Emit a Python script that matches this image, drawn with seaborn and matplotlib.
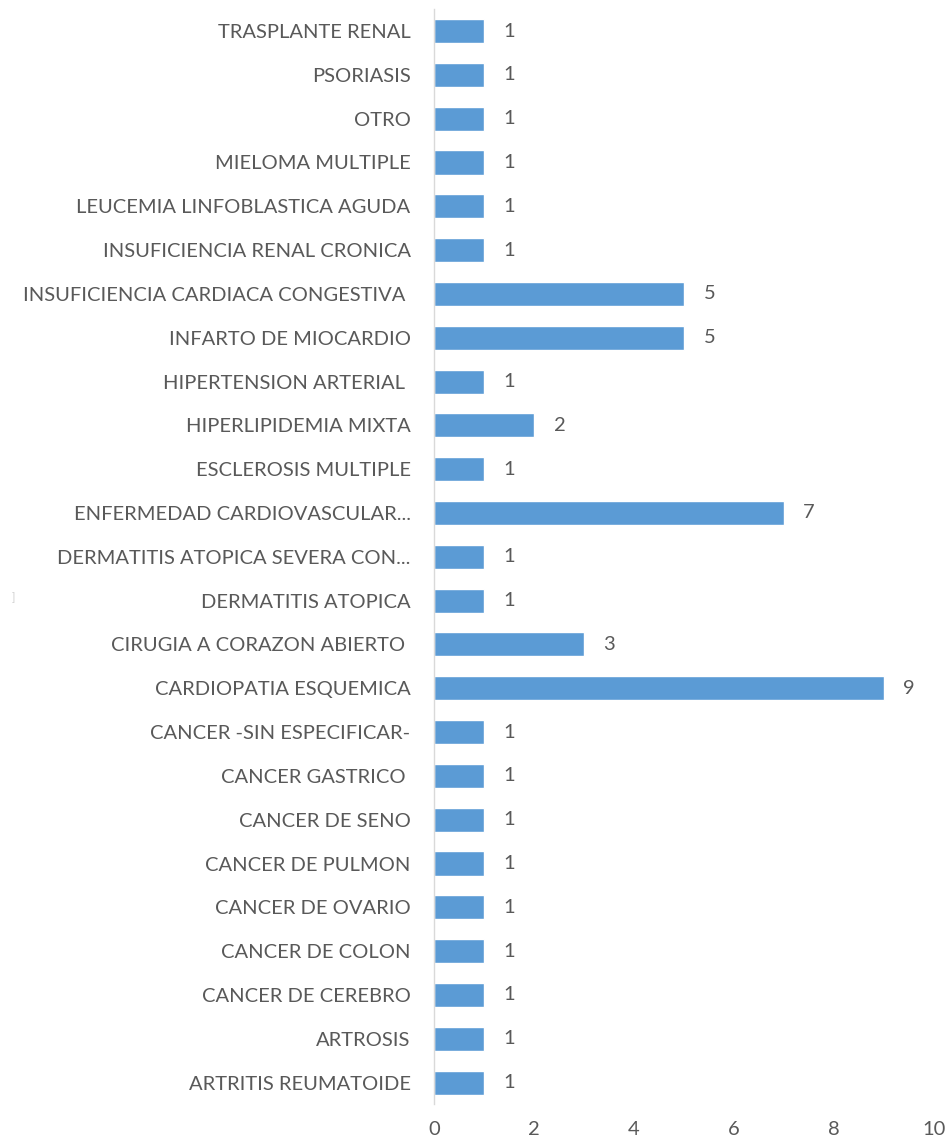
import pandas as pd
import seaborn as sns
import matplotlib.pyplot as plt

# Categories, top to bottom as in the chart
diagnosticos = [
    'TRASPLANTE RENAL', 'PSORIASIS', 'OTRO', 'MIELOMA MULTIPLE',
    'LEUCEMIA LINFOBLASTICA AGUDA', 'INSUFICIENCIA RENAL CRONICA',
    'INSUFICIENCIA CARDIACA CONGESTIVA ', 'INFARTO DE MIOCARDIO',
    'HIPERTENSION ARTERIAL ', 'HIPERLIPIDEMIA MIXTA', 'ESCLEROSIS MULTIPLE',
    'ENFERMEDAD CARDIOVASCULAR...', 'DERMATITIS ATOPICA SEVERA CON...',
    'DERMATITIS ATOPICA', 'CIRUGIA A CORAZON ABIERTO ', 'CARDIOPATIA ESQUEMICA',
    'CANCER -SIN ESPECIFICAR-', 'CANCER GASTRICO ', 'CANCER DE SENO',
    'CANCER DE PULMON', 'CANCER DE OVARIO', 'CANCER DE COLON',
    'CANCER DE CEREBRO', 'ARTROSIS', 'ARTRITIS REUMATOIDE'
]
casos = [1, 1, 1, 1, 1, 1, 5, 5, 1, 2, 1, 7, 1, 1, 3, 9, 1, 1, 1, 1, 1, 1, 1, 1, 1]
x_ticks = [0, 2, 4, 6, 8, 10]

df = pd.DataFrame({'diagnostico': diagnosticos, 'casos': casos})

sns.set_style('white')
plt.rcParams['font.family'] = ['Lato', 'DejaVu Sans']
gris = '#595959'

fig = plt.figure(figsize=(9.48, 11.41), dpi=100)
ax = fig.add_axes([0.458, 0.032, 0.527, 0.96])

sns.barplot(data=df, x='casos', y='diagnostico', color='#5B9BD5',
            width=0.55, saturation=1, ax=ax)

for c in ax.containers:
    ax.bar_label(c, padding=14, fontsize=14.5, color=gris)

ax.set_xlim(0, 10)
ax.set_xticks(x_ticks)
ax.set_xlabel('')
ax.set_ylabel('')
ax.tick_params(axis='both', length=0, labelsize=14.5, colors=gris)
ax.tick_params(axis='y', pad=17)
ax.tick_params(axis='x', pad=12)

for s in ['top', 'right', 'bottom']:
    ax.spines[s].set_visible(False)
ax.spines['left'].set_color('#D9D9D9')
ax.spines['left'].set_linewidth(1)

fig.text(0.012, 0.473, ']', fontsize=8, color='#D0D0D0')

fig.savefig('out.png', dpi=100)
